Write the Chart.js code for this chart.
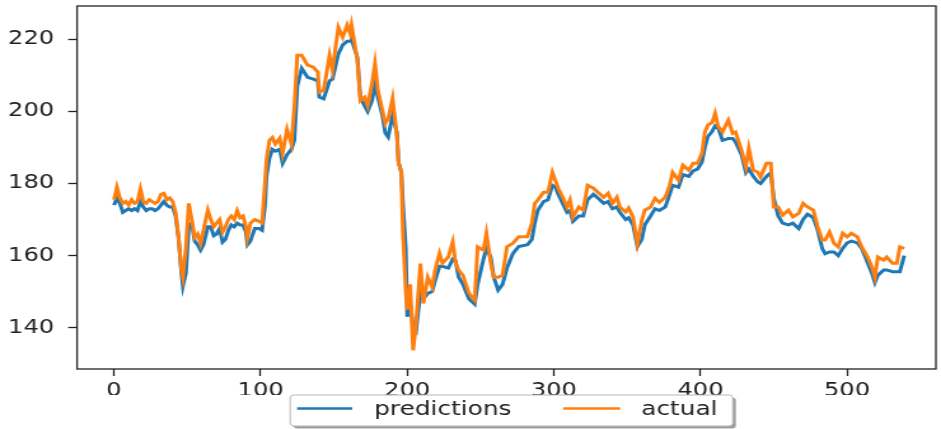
<!DOCTYPE html>
<html>
<head>
<meta charset="utf-8">
<script src="https://cdn.jsdelivr.net/npm/chart.js@4"></script>
<style>
  html, body { margin: 0; padding: 0; background: #fff; }
  #c { display: block; width: 941px; height: 429px; }
</style>
</head>
<body>
<canvas id="c" width="740" height="429" style="width:941px;height:429px;"></canvas>
<script>
// ---- data ----
const seriesNames = ["predictions", "actual"];
const xTicks = [0, 100, 200, 300, 400, 500];
const yTicks = [140, 160, 180, 200, 220];

const actualX = [0,2,4,6,8,10,12,14,16,18,20,22,24,26,28,30,32,34,36,38,40,42,44,46,47,49,51,53,55,57,59,61,64,66,68,70,72,74,76,78,80,82,84,86,88,90,91,93,96,99,101,103,104,106,108,110,113,115,118,121,123,125,128,132,136,139,140,143,147,149,153,156,159,161,162,166,168,171,173,176,178,180,183,185,187,190,193,194,196,197,199,200,202,204,206,209,211,214,217,219,222,224,228,231,233,235,238,242,246,248,252,254,257,259,262,265,268,272,276,282,285,287,289,293,296,299,301,303,306,309,311,313,317,320,323,327,330,334,337,340,343,345,349,351,354,357,360,362,366,369,372,376,379,381,385,388,392,395,398,401,403,405,408,410,412,415,419,422,424,428,431,433,436,439,441,445,448,450,453,456,460,463,467,470,473,477,480,483,485,488,491,494,497,500,503,507,510,514,517,519,521,525,527,531,534,536,539];
const actualY = [175.5,179,176,174.5,175,174,175.5,174.5,175,178.5,175,174.5,175.5,175,174.5,175,177,177.3,175.5,176,175,172,165,156,154,162,174.5,170,165,166,163.4,167,172.6,170,168,169,170,166.5,168,170,171,170,172.5,170.5,171,168,165,169,170,169.5,169,180.4,186.5,192,192.8,191,192.6,188.4,195,191,201.2,215.6,215.6,212.9,212.3,210.9,205.4,205.9,215.6,211.5,223.4,220.6,224,221.7,224,214.2,203,204,201.7,207.9,213.4,205.9,200.4,196.7,198,203.7,193,186,183,167,150,145,152,133.7,141,157.8,146.7,154,151.2,156,160.6,157.9,159.6,163.8,157.9,156,154.5,149.6,147.6,162.4,161.5,166.2,157.9,154,154,154.5,162.4,163.4,165.2,165.2,169,174.5,175.4,177.6,177.6,183.1,180.9,178.7,176.2,173.5,175.4,170.7,173.5,172.6,179.5,178.7,177.6,176.2,177.3,174.5,176.2,173.5,172.1,173.2,170.7,163.4,169.8,172.6,173.5,175.9,174.8,176.2,179.5,183.1,180.9,185.1,183.7,185.6,185.6,188.4,194.3,196.2,197,199.5,196,194.3,197.6,193.9,194.3,189.2,184.6,189.8,183.7,183.2,181.8,185.6,185.6,173.5,173.5,171.2,172.6,170.7,171.7,174.5,173.5,172.6,168,164.3,164.3,166.5,163.4,162.4,166.2,165.2,166.2,165.2,162.4,159.6,156.8,154,159.6,158.7,159.6,157.9,157.9,162.4,162];

const predX = actualX.slice();
const predY = [174,176,174.5,172,172.5,173,172.5,173,172.5,175,173.5,172.5,173,173,172.5,173,174,175,174,173.5,173.5,171,165,155,151.5,155,168,169,164,163,161.5,163,168,168,165.5,166,167.5,163.7,164.5,167,168.5,168,169,168.5,168.5,166.5,163,164,167.5,167.5,167,174,182,187,189.5,189,189.5,185.6,188,189.5,192,207,212,209.5,209,208.5,204,203.5,208.5,209,216,218.5,219.5,219.5,220,215,204,201.5,200,203,207.5,204,199,194,192.9,199,194,186,183,175,162,143,147,140,139,150,148,149.5,150,153,157,157,156.5,159,158.5,154,152,148,146.5,152,159,162,159.5,154,150.4,152,156.5,160.5,162.5,163,164.5,169,172.5,175,175.5,179.5,179,177,174.5,172,172.5,169.5,171,171,175.5,177,176,174.5,175,173,173.5,172,170,170.5,168.5,162.5,164.5,168.5,171,173,172.5,173.5,177,179.5,179,182.5,182,183.5,184,186,190,193,194.5,196,195.5,192,192.5,192.5,191.5,188,183,184,182,180.5,180,182,183,176,171,169,168.5,169,167.5,170,171.5,170.5,167,162,160.5,161,161,160,162,163.5,164,163.5,162,158,155,152.5,154.5,156,156,155.5,155.5,155.5,160];

const toPoints = (xs, ys) => xs.map((x, i) => ({ x: x, y: ys[i] }));

const BLUE = '#1f77b4';
const ORANGE = '#ff7f0e';
const FONT = "'DejaVu Sans', 'Liberation Sans', sans-serif";

// spines (drawn on top of the lines like matplotlib)
const spinePlugin = {
  id: 'spines',
  afterDatasetsDraw(chart) {
    const { ctx, chartArea: a } = chart;
    ctx.save();
    ctx.strokeStyle = '#222';
    ctx.lineWidth = 1.3;
    ctx.strokeRect(a.left, a.top, a.right - a.left, a.bottom - a.top);
    ctx.restore();
  }
};

// legend box below the axes, with shadow (like matplotlib's shadow=True)
const legendPlugin = {
  id: 'mplLegend',
  afterDraw(chart) {
    const { ctx, chartArea: a } = chart;
    const w = 348, h = 31;
    const cx = (a.left + a.right) / 2 + 3.9;
    const left = cx - w / 2;
    const top = 395;
    const r = 3;
    const rr = (x, y, ww, hh) => {
      ctx.beginPath();
      ctx.moveTo(x + r, y);
      ctx.lineTo(x + ww - r, y);
      ctx.quadraticCurveTo(x + ww, y, x + ww, y + r);
      ctx.lineTo(x + ww, y + hh - r);
      ctx.quadraticCurveTo(x + ww, y + hh, x + ww - r, y + hh);
      ctx.lineTo(x + r, y + hh);
      ctx.quadraticCurveTo(x, y + hh, x, y + hh - r);
      ctx.lineTo(x, y + r);
      ctx.quadraticCurveTo(x, y, x + r, y);
      ctx.closePath();
    };
    ctx.save();
    rr(left + 2.5, top + 2.5, w, h);
    ctx.fillStyle = 'rgba(0,0,0,0.38)';
    ctx.fill();
    rr(left, top, w, h);
    ctx.fillStyle = '#fff';
    ctx.fill();
    ctx.strokeStyle = '#b8b8b8';
    ctx.lineWidth = 1;
    ctx.stroke();
    const cy = top + h / 2 - 2;
    const items = [
      { label: seriesNames[0], color: BLUE, x0: 5.5, x1: 48.8, tx: 66 },
      { label: seriesNames[1], color: ORANGE, x0: 214.7, x1: 259.5, tx: 276 }
    ];
    ctx.font = "19.5px " + FONT;
    ctx.textBaseline = 'middle';
    ctx.textAlign = 'left';
    items.forEach(it => {
      ctx.strokeStyle = it.color;
      ctx.lineWidth = 2.5;
      ctx.beginPath();
      ctx.moveTo(left + it.x0, cy);
      ctx.lineTo(left + it.x1, cy);
      ctx.stroke();
      ctx.fillStyle = '#222';
      ctx.fillText(it.label, left + it.tx, cy + 1);
    });
    ctx.restore();
  }
};

new Chart(document.getElementById('c'), {
  type: 'line',
  data: {
    datasets: [
      {
        label: seriesNames[0],
        data: toPoints(predX, predY),
        borderColor: BLUE,
        backgroundColor: BLUE,
        borderWidth: 3,
        pointRadius: 0,
        tension: 0,
        order: 1
      },
      {
        label: seriesNames[1],
        data: toPoints(actualX, actualY),
        borderColor: ORANGE,
        backgroundColor: ORANGE,
        borderWidth: 3,
        pointRadius: 0,
        tension: 0,
        order: 0
      }
    ]
  },
  options: {
    responsive: false,
    animation: false,
    devicePixelRatio: 1,
    layout: { padding: { top: 6, right: 4, bottom: 34, left: 0 } },
    plugins: {
      legend: { display: false },
      tooltip: { enabled: false }
    },
    scales: {
      x: {
        type: 'linear',
        min: -25.2,
        max: 560.6,
        border: { display: false },
        grid: { display: true, drawOnChartArea: false, drawTicks: true, tickLength: 7, tickColor: '#222', tickWidth: 1.3 },
        ticks: { font: { family: FONT, size: 19 }, color: '#222', padding: 4, maxRotation: 0, autoSkip: false },
        afterBuildTicks: (s) => { s.ticks = xTicks.map(v => ({ value: v })); },
        afterFit: (s) => { s.height = 26; s.paddingLeft = 0; s.paddingRight = 0; s.paddingTop = 0; s.paddingBottom = 0; }
      },
      y: {
        type: 'linear',
        min: 128.5,
        max: 229.3,
        border: { display: false },
        grid: { display: true, drawOnChartArea: false, drawTicks: true, tickLength: 7, tickColor: '#222', tickWidth: 1.3 },
        ticks: { font: { family: FONT, size: 19 }, color: '#222', padding: 11 },
        afterBuildTicks: (s) => { s.ticks = yTicks.map(v => ({ value: v })); },
        afterFit: (s) => { s.width = 60.6; s.paddingLeft = 0; s.paddingRight = 0; s.paddingTop = 0; s.paddingBottom = 0; }
      }
    }
  },
  plugins: [spinePlugin, legendPlugin]
});
</script>
</body>
</html>
